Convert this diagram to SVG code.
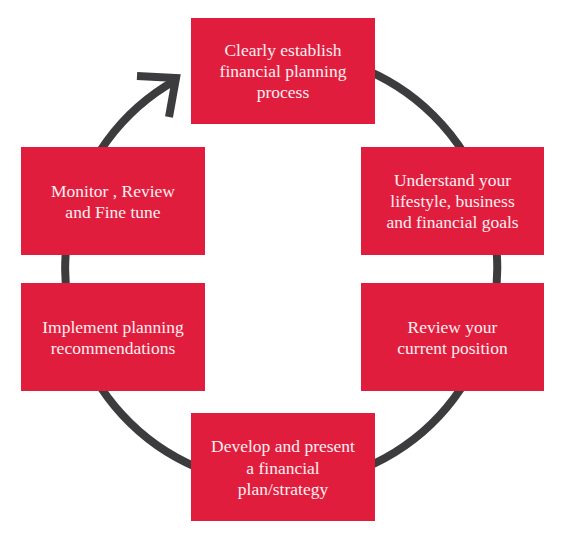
<svg xmlns="http://www.w3.org/2000/svg" width="565" height="542" viewBox="0 0 565 542">
<style>
.box{fill:#e11d3e}
.t{font-family:"Liberation Serif","DejaVu Serif",serif;font-size:17.5px;fill:#fdeef0;text-anchor:middle}
.ring{fill:none;stroke:#3c3c3e;stroke-width:8}
</style>
<rect width="565" height="542" fill="#ffffff"/>
<g id="connectors">
<path class="ring" d="M176,80 A216,216 0 1 0 356,66"/>
<polyline class="ring" points="137,76 176,78 169,117" stroke-linejoin="miter"/>
</g>
<g id="n1"><rect class="box" x="191" y="18" width="184" height="106"/>
<text class="t" x="283" y="56">Clearly establish</text><text class="t" x="283" y="77">financial planning</text><text class="t" x="283" y="98">process</text></g>
<g id="n2"><rect class="box" x="361" y="147" width="183" height="108"/>
<text class="t" x="452.5" y="186">Understand your</text><text class="t" x="452.5" y="207">lifestyle, business</text><text class="t" x="452.5" y="228">and financial goals</text></g>
<g id="n3"><rect class="box" x="361" y="283" width="183" height="108"/>
<text class="t" x="452.5" y="333">Review your</text><text class="t" x="452.5" y="354">current position</text></g>
<g id="n4"><rect class="box" x="191" y="413" width="184" height="108"/>
<text class="t" x="283" y="452">Develop and present</text><text class="t" x="283" y="474">a financial</text><text class="t" x="283" y="495">plan/strategy</text></g>
<g id="n5"><rect class="box" x="21" y="283" width="184" height="108"/>
<text class="t" x="113" y="333">Implement planning</text><text class="t" x="113" y="354">recommendations</text></g>
<g id="n6"><rect class="box" x="21" y="147" width="184" height="108"/>
<text class="t" x="113" y="197">Monitor , Review</text><text class="t" x="113" y="218">and Fine tune</text></g>
</svg>
